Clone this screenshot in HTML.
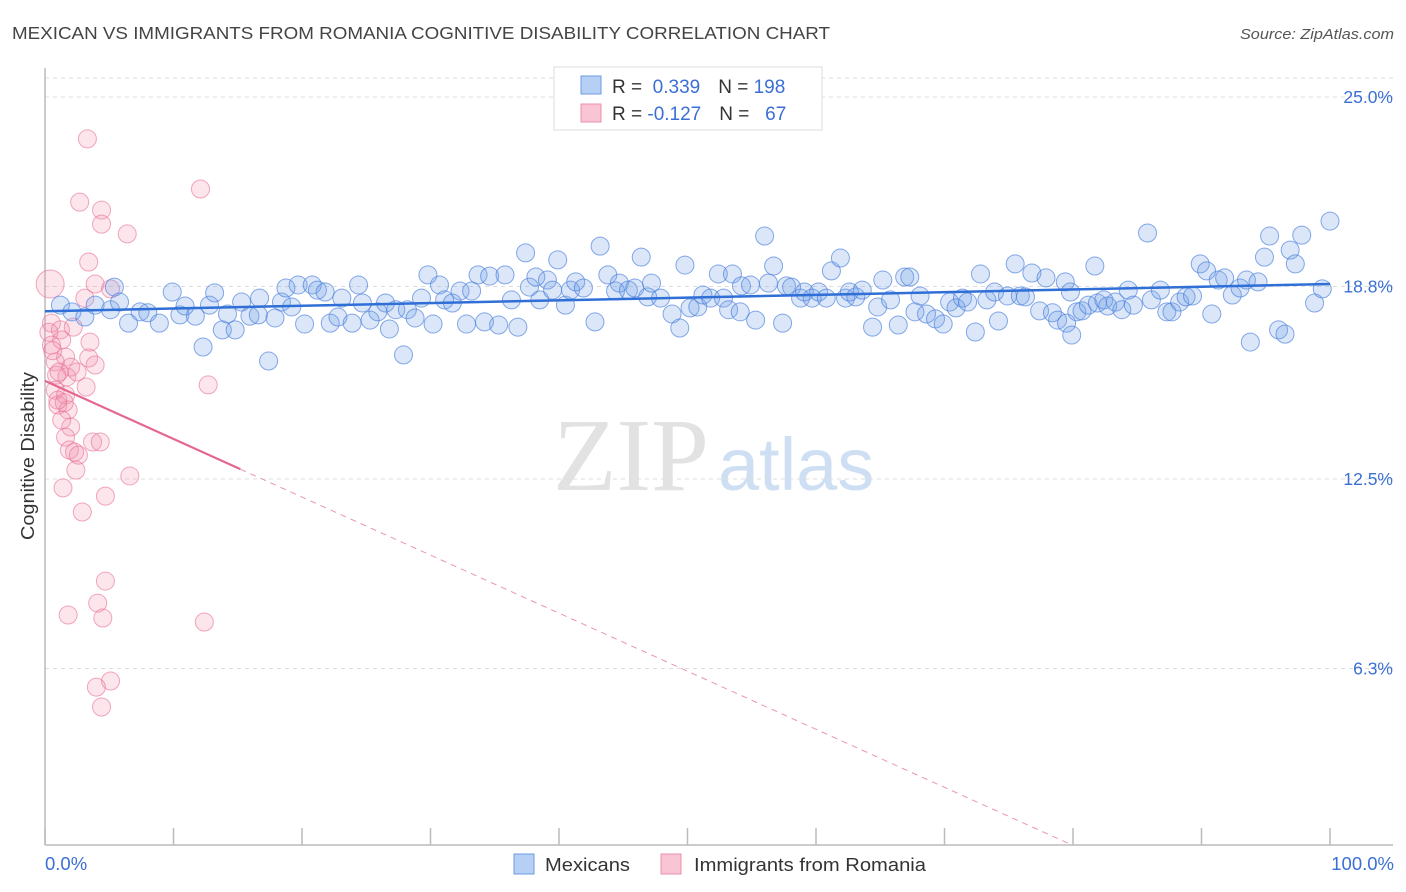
<!DOCTYPE html>
<html><head><meta charset="utf-8"><style>
body{margin:0;background:#fff;font-family:"Liberation Sans",sans-serif}
svg{display:block}
</style></head><body>
<svg id="c" width="1406" height="892">
<text x="12" y="39" font-size="17.5" fill="#444" textLength="818" lengthAdjust="spacingAndGlyphs">MEXICAN VS IMMIGRANTS FROM ROMANIA COGNITIVE DISABILITY CORRELATION CHART</text>
<text x="1240" y="39" font-size="14.5" fill="#555" font-style="italic" textLength="154" lengthAdjust="spacingAndGlyphs">Source: ZipAtlas.com</text>
<g>
<text x="553" y="490" font-family="Liberation Serif,serif" font-size="104" fill="#e2e2e2">ZIP</text>
<text x="718" y="490" font-size="74" fill="#cfdff3">atlas</text>
</g>
<g id="grid"></g>
<g id="axes"></g>
<g id="pink"></g>
<g id="blue"></g>
<g id="lines"></g>
<text transform="translate(34,456) rotate(-90)" font-size="18" fill="#333" text-anchor="middle" textLength="168" lengthAdjust="spacingAndGlyphs">Cognitive Disability</text>
<text x="45" y="870" font-size="18.5" fill="#3b6fd4">0.0%</text>
<text x="1394" y="870" font-size="18.5" fill="#3b6fd4" text-anchor="end">100.0%</text>
<g>
<rect x="554" y="67" width="268" height="63" fill="#fff" stroke="#ddd"/>
<rect x="581" y="76" width="20" height="18" fill="#b5cff5" stroke="#6d9be3"/>
<rect x="581" y="104" width="20" height="18" fill="#f9c5d5" stroke="#ec8fab"/>
<text x="612" y="93" font-size="19" fill="#333">R = <tspan fill="#3b6fd4">&#160;0.339</tspan><tspan dx="18">N = </tspan><tspan fill="#3b6fd4">198</tspan></text>
<text x="612" y="120" font-size="19" fill="#333">R = <tspan fill="#3b6fd4">-0.127</tspan><tspan dx="18">N = </tspan><tspan fill="#3b6fd4">&#160;&#160;67</tspan></text>
</g>
<g>
<rect x="514" y="854" width="20" height="20" fill="#b5cff5" stroke="#6d9be3"/>
<text x="545" y="871" font-size="18" fill="#333" textLength="85" lengthAdjust="spacingAndGlyphs">Mexicans</text>
<rect x="661" y="854" width="20" height="20" fill="#f9c5d5" stroke="#ec8fab"/>
<text x="694" y="871" font-size="18" fill="#333" textLength="232" lengthAdjust="spacingAndGlyphs">Immigrants from Romania</text>
</g>
</svg>
<script>
const yTicks=[25.0,18.8,12.5,6.3];
const yTickLabels=["25.0%","18.8%","12.5%","6.3%"];
const xTicks=[0,10,20,30,40,50,60,70,80,90,100];
const blueX=[1.2,2.1,3.1,3.9,5.1,5.4,5.8,6.5,7.4,8.0,8.9,9.9,10.5,10.9,11.7,12.3,12.8,13.2,13.8,14.2,14.8,15.3,15.95,16.6,16.7,17.4,17.9,18.4,18.75,19.2,19.7,20.2,20.8,21.2,21.8,22.2,22.8,23.1,23.9,24.4,24.7,25.3,25.9,26.5,26.8,27.3,27.9,28.2,28.8,29.3,29.8,30.2,30.7,31.1,31.7,32.3,32.8,33.2,33.7,34.2,34.6,35.3,35.8,36.3,36.8,37.4,37.7,38.2,38.5,39.1,39.5,39.9,40.5,40.9,41.3,41.9,42.8,43.2,43.8,44.4,44.7,45.4,45.9,46.4,46.9,47.2,47.9,48.8,49.4,49.8,50.2,50.8,51.2,51.8,52.4,52.8,53.2,53.5,54.1,54.2,54.9,55.3,56.0,56.3,56.7,57.4,57.7,58.1,58.8,59.1,59.7,60.2,60.8,61.2,61.9,62.3,62.6,63.1,63.6,64.4,64.8,65.2,65.8,66.4,66.9,67.3,67.7,68.1,68.6,69.3,69.9,70.4,70.9,71.4,71.8,72.4,72.8,73.3,73.9,74.2,74.9,75.5,75.9,76.3,76.8,77.4,77.9,78.4,78.8,79.4,79.5,79.8,79.9,80.3,80.7,81.2,81.7,81.9,82.4,82.7,83.3,83.8,84.3,84.7,85.8,86.1,86.8,87.3,87.7,88.3,88.8,89.3,89.9,90.4,90.8,91.3,91.8,92.4,93.0,93.5,93.8,94.4,94.9,95.3,96.0,96.5,96.9,97.3,97.8,98.8,99.4,100.0];
const blueY=[18.19,17.97,17.80,18.19,18.04,18.78,18.29,17.60,17.97,17.94,17.60,18.62,17.87,18.16,17.83,16.82,18.19,18.59,17.38,17.90,17.38,18.29,17.83,17.87,18.42,16.36,17.77,18.29,18.75,18.13,18.85,17.57,18.85,18.68,18.62,17.60,17.80,18.42,17.60,18.85,18.26,17.70,17.97,18.26,17.41,18.04,16.56,18.04,17.77,18.42,19.18,17.57,18.85,18.36,18.26,18.65,17.57,18.65,19.18,17.64,19.14,17.54,19.18,18.36,17.47,19.90,18.78,19.11,18.36,19.01,18.68,19.67,18.19,18.68,18.95,18.75,17.64,20.12,19.18,18.65,18.91,18.68,18.75,19.76,18.46,18.91,18.42,17.90,17.44,19.50,18.10,18.13,18.52,18.42,19.21,18.42,18.04,19.21,17.97,18.82,18.85,17.70,20.45,18.91,19.47,17.60,18.82,18.78,18.42,18.62,18.42,18.62,18.42,19.31,19.73,18.42,18.62,18.46,18.68,17.47,18.13,19.01,18.36,17.54,19.11,19.11,17.97,18.49,17.90,17.74,17.57,18.29,18.10,18.42,18.29,17.31,19.21,18.36,18.62,17.67,18.49,19.54,18.49,18.46,19.24,18.00,19.08,17.94,17.70,18.95,17.60,18.62,17.21,17.97,18.00,18.19,19.47,18.26,18.36,18.16,18.29,18.04,18.68,18.19,20.55,18.36,18.68,17.97,17.97,18.29,18.46,18.49,19.54,19.31,17.90,19.01,19.08,18.52,18.75,19.01,16.98,18.95,19.76,20.45,17.38,17.24,19.99,19.54,20.48,18.26,18.72,20.94];
const pinkX=[0.4,3.3,12.1,2.7,4.4,4.4,6.4,3.4,3.9,5.1,3.1,0.5,1.2,2.2,0.5,1.3,3.5,1.6,0.8,3.4,2.0,3.9,0.9,1.7,12.7,3.2,0.8,1.6,1.0,1.8,2.0,1.3,1.6,1.9,3.7,4.3,2.3,2.6,6.6,2.4,1.4,4.7,2.9,4.7,4.1,1.8,4.5,12.4,5.1,4.0,4.4,0.6,1.1,2.5,1.5,1.0,0.3];
const pinkY=[18.88,23.63,21.99,21.56,21.30,20.84,20.52,19.60,18.88,18.72,18.42,17.60,17.38,17.47,16.88,17.05,16.98,16.49,16.33,16.46,16.16,16.23,15.90,15.84,15.58,15.51,15.41,15.25,14.92,14.76,14.20,14.43,13.87,13.45,13.71,13.71,13.38,13.28,12.60,12.79,12.21,11.94,11.42,9.16,8.44,8.05,7.95,7.82,5.89,5.69,5.04,16.7,16.0,16.0,15.0,15.08,17.3];
const pinkR=[14];
const blueTrend=[17.99,18.88];
const pinkTrend=[15.71,-0.19];
const pinkSolidEnd=15.2;

const NS="http://www.w3.org/2000/svg";
const X=v=>45+v*12.85;
const Y=v=>861-v*30.56;
function mk(tag,attrs,parent){const e=document.createElementNS(NS,tag);for(const k in attrs)e.setAttribute(k,attrs[k]);parent.appendChild(e);return e;}
const grid=document.getElementById('grid'),axes=document.getElementById('axes');
let g=mk('line',{x1:45,x2:1393,y1:78,y2:78,stroke:'#ddd','stroke-dasharray':'4,4'},grid);


yTicks.forEach((t,i)=>{
 const l=mk('line',{x1:45,x2:1393,y1:Y(t),y2:Y(t),stroke:'#ddd','stroke-dasharray':'4,4'},grid);
 
 
 const tx=mk('text',{x:1393,y:Y(t)+6,'font-size':17.5,fill:'#3b6fd4','text-anchor':'end'},grid);
 tx.textContent=yTickLabels[i];
 
 
});
let a=mk('line',{x1:45,x2:45,y1:68,y2:845,stroke:'#bbb','stroke-width':1.5},axes);


a=mk('line',{x1:45,x2:1393,y1:845,y2:845,stroke:'#bbb','stroke-width':1.5},axes);


xTicks.forEach(t=>{
 const l=mk('line',{x1:X(t),x2:X(t),y1:828,y2:845,stroke:'#bbb','stroke-width':1.5},axes);
 
 
});
const pg=document.getElementById('pink');
pinkX.forEach((x,i)=>{
 const c=mk('circle',{cx:X(x),cy:Y(pinkY[i]),r:i===0?pinkR[0]:9,fill:'rgba(242,140,170,0.22)',stroke:'rgba(232,110,150,0.6)','stroke-width':1},pg);
 
 
});
const bg=document.getElementById('blue');
blueX.forEach((x,i)=>{
 const c=mk('circle',{cx:X(x),cy:Y(blueY[i]),r:9,fill:'rgba(110,160,232,0.25)',stroke:'rgba(70,125,220,0.65)','stroke-width':1},bg);
 
 
});
const lg=document.getElementById('lines');
let ln=mk('line',{x1:X(0),y1:Y(blueTrend[0]),x2:X(100),y2:Y(blueTrend[1]),stroke:'#2f6fd6','stroke-width':2.5},lg);


const pf=x=>pinkTrend[0]+pinkTrend[1]*x;
ln=mk('line',{x1:X(0),y1:Y(pf(0)),x2:X(pinkSolidEnd),y2:Y(pf(pinkSolidEnd)),stroke:'#e5678f','stroke-width':2.2},lg);


const xEnd=(0.52-pinkTrend[0])/pinkTrend[1];
ln=mk('line',{x1:X(pinkSolidEnd),y1:Y(pf(pinkSolidEnd)),x2:X(xEnd),y2:Y(pf(xEnd)),stroke:'#e896b0','stroke-width':1,'stroke-dasharray':'6,5'},lg);


</script>
</body></html>
